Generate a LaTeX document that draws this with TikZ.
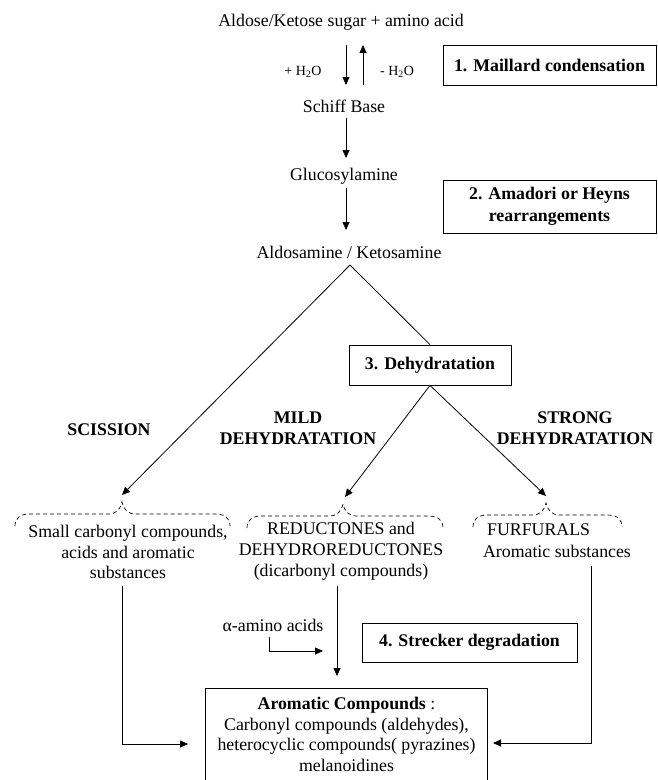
\documentclass[tikz,border=0pt]{standalone}
\usepackage{fontspec}
\setmainfont{Liberation Serif}
\usetikzlibrary{arrows.meta}
\begin{document}
\begin{tikzpicture}[x=1pt,y=-1pt,
  every node/.style={font=\fontsize{17.8}{20.8}\selectfont, inner sep=0pt},
  lbl/.style={align=center},
  blbl/.style={align=center, font=\fontsize{17.8}{20.8}\selectfont\bfseries},
  small/.style={font=\fontsize{14}{16}\selectfont},
  stagebox/.style={draw, line width=0.8pt, align=center, font=\fontsize{17.8}{21.5}\selectfont\bfseries},
  arr/.style={line width=0.8pt, -{Triangle[length=8pt,width=7pt]}},
  ln/.style={line width=0.8pt},
  dbrace/.style={line width=0.7pt, dash pattern=on 4pt off 3pt}
]
\useasboundingbox (0,0) rectangle (657,780);

% top part
\node[lbl] (top) at (341,22) {Aldose/Ketose sugar + amino acid};
\node[small] (plus) at (303,72) {+ H\textsubscript{2}O};
\node[small] (minus) at (397,72) {- H\textsubscript{2}O};
\node[stagebox, minimum width=213pt, minimum height=40pt] (box1) at (549.5,65) {1. Maillard condensation};
\node[lbl] (schiff) at (344,106) {Schiff Base};
\node[lbl] (gluc) at (344,176) {Glucosylamine};
\node[stagebox, minimum width=213pt, minimum height=53pt] (box2) at (549.5,206.5) {2. Amadori or Heyns\\rearrangements};
\node[lbl] (aldo) at (349,252) {Aldosamine / Ketosamine};

\coordinate (d1) at (346,45);
\coordinate (d2) at (346,85);
\coordinate (u1) at (363,85);
\coordinate (u2) at (363,45);
\draw[arr] (d1) -- (d2);
\draw[arr] (u1) -- (u2);
\coordinate (s1) at (346,118);
\coordinate (s2) at (346,158);
\draw[arr] (s1) -- (s2);
\coordinate (g1) at (346,188);
\coordinate (g2) at (346,230);
\draw[arr] (g1) -- (g2);

% branching
\coordinate (apex) at (350,265);
\node[stagebox, minimum width=162pt, minimum height=40pt] (box3) at (430,365) {3. Dehydratation};
\coordinate (tipL) at (122,495);
\coordinate (tipM) at (345,497);
\coordinate (tipR) at (546,496);
\draw[arr] (apex) -- (tipL);
\draw[ln] (apex) -- (box3.north);
\draw[arr] (box3.south) -- (tipM);
\draw[arr] (box3.south) -- (tipR);

\node[blbl] (sci) at (109,430) {SCISSION};
\node[blbl] (mild) at (298,428) {MILD\\DEHYDRATATION};
\node[blbl] (strong) at (575,428) {STRONG\\DEHYDRATATION};

% braces
\draw[dbrace] (15,526) .. controls (15,518) and (20,514) .. (30,514) -- (108,514)
  .. controls (116,514) and (120,510) .. (122,502)
  .. controls (124,510) and (128,514) .. (136,514) -- (215,514)
  .. controls (225,514) and (230,518) .. (230,526);
\draw[dbrace] (247,528) .. controls (247,520) and (252,516) .. (262,516) -- (329,516)
  .. controls (337,516) and (341,512) .. (343,504)
  .. controls (345,512) and (349,516) .. (357,516) -- (428,516)
  .. controls (438,516) and (443,520) .. (443,528);
\draw[dbrace] (473,527) .. controls (473,519) and (478,515) .. (488,515) -- (532,515)
  .. controls (540,515) and (544,511) .. (546,503)
  .. controls (548,511) and (552,515) .. (560,515) -- (607,515)
  .. controls (617,515) and (622,519) .. (622,527);

\node[lbl] (small) at (128,552) {Small carbonyl compounds,\\acids and aromatic\\substances};
\node[lbl] (reduc) at (341,551) {REDUCTONES and\\DEHYDROREDUCTONES\\(dicarbonyl compounds)};
\node[anchor=west] (furf) at (487,530) {FURFURALS};
\node[lbl] (arsub) at (557,551) {Aromatic substances};

% lower part
\node[lbl] (alpha) at (273,625) {α-amino acids};
\node[stagebox, minimum width=215pt, minimum height=39pt] (box4) at (469.5,642.5) {4. Strecker degradation};
\node[lbl, minimum width=281pt, minimum height=91pt] (arom) at (346.5,734.5) {\textbf{Aromatic Compounds} :\\Carbonyl compounds (aldehydes),\\heterocyclic compounds( pyrazines)\\melanoidines};
\draw[ln] (arom.south west) -- (arom.north west) -- (arom.north east) -- (arom.south east);

\coordinate (lt) at (122,586);
\coordinate (mt) at (337,586);
\coordinate (rt) at (591,566);
\draw[arr] (lt) |- (188,744);
\draw[arr] (mt) -- (337,676);
\draw[arr] (rt) |- (493,743);
\coordinate (a1) at (269,637);
\coordinate (a2) at (323,651);
\draw[arr] (a1) |- (a2);
\end{tikzpicture}
\end{document}
